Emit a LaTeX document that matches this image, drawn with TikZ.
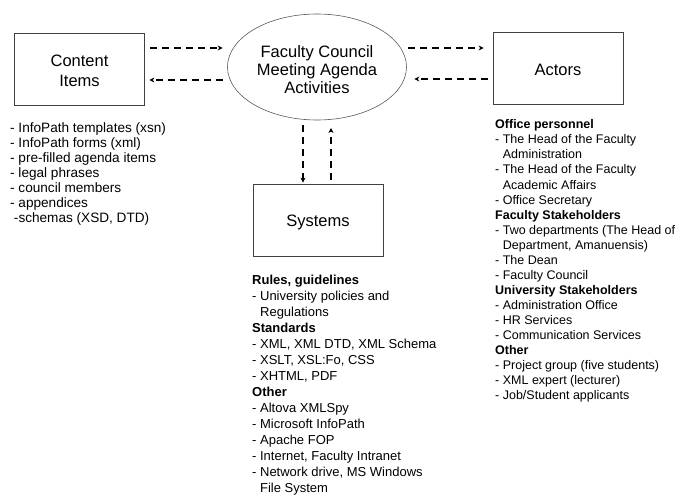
\documentclass[tikz,border=0pt]{standalone}
\usepackage{fontspec}
\setmainfont{Liberation Sans}
\usetikzlibrary{shapes.geometric,arrows.meta}

\begin{document}
\begin{tikzpicture}[x=1pt, y=-1pt,
  entity/.style={draw=black!75, line width=0.7pt, minimum width=130pt,
    minimum height=72pt, inner sep=0pt},
  activity/.style={draw=black!65, line width=0.6pt, ellipse,
    minimum width=179pt, minimum height=106pt, inner sep=0pt},
  title/.style={align=center, inner sep=0pt, yshift=-2pt,
    font=\fontsize{16.5}{20}\selectfont},
  flow/.style={dashed, dash pattern=on 7pt off 5pt, line width=1.2pt,
    -{Stealth[length=5pt,width=5pt,inset=1.5pt]}},
  listing/.style={anchor=north west, inner sep=0pt, align=left}
]
\newcommand{\ind}{\hspace*{0.611em}}
\useasboundingbox (0,0) rectangle (678,495);

% main entities
\node[entity, label={[title]center:Content\\Items}] (ci) at (79.5,69) {};
\node[activity, label={[title, yshift=-1pt,
  font=\fontsize{16.5}{18}\selectfont]center:Faculty Council\\Meeting Agenda\\Activities}]
  (fc) at (317,67) {};
\node[entity, label={[title]center:Actors}] (act) at (558,68) {};
\node[entity, label={[title]center:Systems}] (sys) at (318,220) {};

% information flows
\draw[flow, shorten <=5pt, shorten >=4.5pt]
  ([yshift=21pt]ci.east) -- ([yshift=21pt]ci.east -| fc.west);
\draw[flow, shorten <=4.5pt, shorten >=4.5pt]
  ([yshift=-11pt]ci.east -| fc.west) -- ([yshift=-11pt]ci.east);
\draw[flow, shorten <=1.5pt, shorten >=9pt]
  ([yshift=20pt]act.west -| fc.east) -- ([yshift=20pt]act.west);
\draw[flow, shorten <=5pt, shorten >=7.5pt]
  ([yshift=-11pt]act.west) -- ([yshift=-11pt]act.west -| fc.east);
\draw[flow, shorten <=5pt, shorten >=1pt]
  ([xshift=-15pt]sys.north |- fc.south) -- ([xshift=-15pt]sys.north);
\draw[flow, shorten <=4pt, shorten >=7.7pt]
  ([xshift=13pt]sys.north) -- ([xshift=13pt]sys.north |- fc.south);

% descriptions
\node[listing, font=\fontsize{13.6}{15}\selectfont] (cilist) at (10,122.5) {%
- InfoPath templates (xsn)\\
- InfoPath forms (xml)\\
- pre-filled agenda items\\
- legal phrases\\
- council members\\
- appendices\\
\hspace*{0.278em}-schemas (XSD, DTD)};

\node[listing, font=\fontsize{12.5}{15.06}\selectfont] (actlist) at (495,119.5) {%
\textbf{Office personnel}\\
- The Head of the Faculty\\
\ind Administration\\
- The Head of the Faculty\\
\ind Academic Affairs\\
- Office Secretary\\
\textbf{Faculty Stakeholders}\\
- Two departments (The Head of\\
\ind Department, Amanuensis)\\
- The Dean\\
- Faculty Council\\
\textbf{University Stakeholders}\\
- Administration Office\\
- HR Services\\
- Communication Services\\
\textbf{Other}\\
- Project group (five students)\\
- XML expert (lecturer)\\
- Job/Student applicants};

\node[listing, font=\fontsize{13}{16}\selectfont] (syslist) at (252,275) {%
\textbf{Rules, guidelines}\\
- University policies and\\
\ind Regulations\\
\textbf{Standards}\\
- XML, XML DTD, XML Schema\\
- XSLT, XSL:Fo, CSS\\
- XHTML, PDF\\
\textbf{Other}\\
- Altova XMLSpy\\
- Microsoft InfoPath\\
- Apache FOP\\
- Internet, Faculty Intranet\\
- Network drive, MS Windows\\
\ind File System};
\end{tikzpicture}
\end{document}
